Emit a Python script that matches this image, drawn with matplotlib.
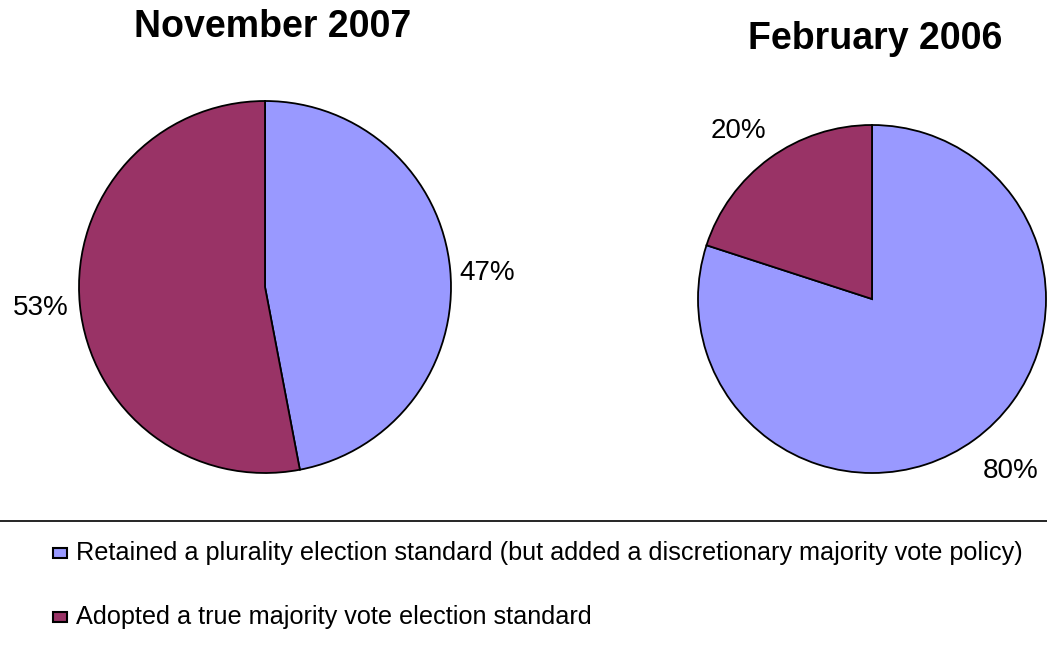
import matplotlib
matplotlib.use("Agg")
import matplotlib.pyplot as plt
from matplotlib.lines import Line2D
from matplotlib.patches import Rectangle

categories = ["Retained a plurality election standard (but added a discretionary majority vote policy)",
              "Adopted a true majority vote election standard"]
nov2007 = [47, 53]
feb2006 = [80, 20]
titles = ["November 2007", "February 2006"]
colors = ["#9999FF", "#993366"]

W, H = 1047, 645
fig = plt.figure(figsize=(W / 100, H / 100), dpi=100)
plt.rcParams['font.family'] = ['Liberation Sans', 'DejaVu Sans']

def pie_axes(cx, cy, r):
    return fig.add_axes([(cx - r) / W, (H - cy - r) / H, 2 * r / W, 2 * r / H])

# (values, centre x, centre y, radius, label distance, title, title x, title y, label pixel nudges)
specs = [(nov2007, 265, 287, 186, 1.06, titles[0], 273, 27, [(-2, 5), (0, 2)]),
         (feb2006, 872, 299, 174, 1.13, titles[1], 875, 39, [(-5, 13), (10, -9)])]
for vals, cx, cy, r, ld, title, tx, ty, nudges in specs:
    ax = pie_axes(cx, cy, r)
    wedges, texts = ax.pie(vals, colors=colors, startangle=90, counterclock=False,
                           labels=[f"{v}%" for v in vals], labeldistance=ld,
                           wedgeprops=dict(edgecolor="black", linewidth=1.3),
                           textprops=dict(fontsize=20, color="black"))
    for t, (dx, dy) in zip(texts, nudges):
        x, y = t.get_position()
        t.set_position((x + dx / r, y - dy / r))
    ax.set_xlim(-1, 1)
    ax.set_ylim(-1, 1)
    ax.set_aspect("equal")
    fig.text(tx / W, 1 - ty / H, title, ha="center", va="center",
             fontsize=27, fontweight="bold")

# separator line
fig.add_artist(Line2D([0, 1], [1 - 521 / H, 1 - 521 / H], color="black", lw=1.2,
                      transform=fig.transFigure))

# legend
for i, (cat, col) in enumerate(zip(categories, colors)):
    y = 553 + i * 64
    fig.add_artist(Rectangle((53 / W, 1 - (y + 5) / H), 14 / W, 10 / H,
                             facecolor=col, edgecolor="black", lw=1.5,
                             transform=fig.transFigure))
    fig.text(76 / W, 1 - y / H, cat, ha="left", va="center", fontsize=18.2)

fig.savefig("out.png", dpi=100)
